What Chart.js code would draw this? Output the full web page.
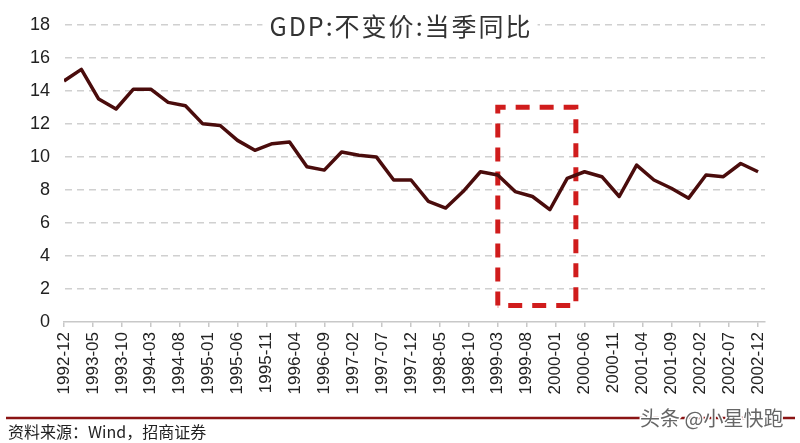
<!DOCTYPE html>
<html>
<head>
<meta charset="utf-8">
<script src="https://cdn.jsdelivr.net/npm/chart.js@4/dist/chart.umd.min.js"></script>
<style>
  html, body { margin: 0; padding: 0; background: #fff; }
  #wrap { width: 800px; height: 443px; position: relative; }
</style>
</head>
<body>
<div id="wrap"><canvas id="grafico"></canvas></div>
<script>
// Trimestres desde 1992-12 hasta 2002-12
const trimestres = [
  '1992-12','1993-03','1993-06','1993-09','1993-12','1994-03','1994-06','1994-09','1994-12',
  '1995-03','1995-06','1995-09','1995-12','1996-03','1996-06','1996-09','1996-12',
  '1997-03','1997-06','1997-09','1997-12','1998-03','1998-06','1998-09','1998-12',
  '1999-03','1999-06','1999-09','1999-12','2000-03','2000-06','2000-09','2000-12',
  '2001-03','2001-06','2001-09','2001-12','2002-03','2002-06','2002-09','2002-12'
];
const gdpYoY = [
  14.6, 15.3, 13.5, 12.9, 14.1, 14.1, 13.3, 13.1, 12.0,
  11.9, 11.0, 10.4, 10.8, 10.9, 9.4, 9.2, 10.3,
  10.1, 10.0, 8.6, 8.6, 7.3, 6.9, 7.9, 9.1,
  8.9, 7.9, 7.6, 6.8, 8.7, 9.1, 8.8, 7.6,
  9.5, 8.6, 8.1, 7.5, 8.9, 8.8, 9.6, 9.1
];
// recuadro rojo: desde 1999-03 hasta mediados de 2000-04, valores 1 a 13
const cajaMeses = ['1999-03', '2000-04'];
const cajaValores = [1, 13];

const titulo = 'GDP:不变价:当季同比';
const fuente = '资料来源：Wind，招商证券';
const marcaAgua = '头条 @小星快跑';

const inicio = { y: 1992, m: 12 };
function aMes(s) {
  const [a, m] = s.split('-').map(Number);
  return (a - inicio.y) * 12 + (m - inicio.m);
}
function aEtiqueta(v) {
  const total = inicio.y * 12 + (inicio.m - 1) + Math.round(v);
  const a = Math.floor(total / 12);
  const m = total % 12 + 1;
  return a + '-' + String(m).padStart(2, '0');
}

const puntos = trimestres.map((t, i) => ({ x: aMes(t), y: gdpYoY[i] }));
const x0 = aMes(cajaMeses[0]), x1 = aMes(cajaMeses[1]) + 0.5;
const caja = [
  { x: x0, y: cajaValores[0] }, { x: x0, y: cajaValores[1] },
  { x: x1, y: cajaValores[1] }, { x: x1, y: cajaValores[0] },
  { x: x0, y: cajaValores[0] }
];

const extras = {
  id: 'extras',
  afterDatasetsDraw(chart) {
    const c = chart.ctx;
    c.save();
    // titulo con fondo blanco
    c.font = '25px "Noto Sans CJK SC"';
    c.letterSpacing = '2px';
    const w = c.measureText(titulo).width;
    c.fillStyle = '#fff';
    c.fillRect(400 - w / 2 - 6, 8, w + 12, 32);
    c.fillStyle = '#333';
    c.textAlign = 'center';
    c.textBaseline = 'middle';
    c.fillText(titulo, 401, 26);
    c.letterSpacing = '0px';
    // linea inferior
    c.strokeStyle = '#8b1414';
    c.lineWidth = 2.5;
    c.beginPath();
    c.moveTo(6, 418);
    c.lineTo(795, 418);
    c.stroke();
    // fuente
    c.textAlign = 'left';
    c.fillStyle = '#222';
    c.font = '16px "Noto Sans CJK SC"';
    c.fillText(fuente, 8, 432);
    // marca de agua
    c.font = '20px "Noto Sans CJK SC"';
    c.lineWidth = 3;
    c.strokeStyle = '#fff';
    c.strokeText(marcaAgua, 640, 418);
    c.fillStyle = '#666';
    c.fillText(marcaAgua, 640, 418);
    c.restore();
  }
};

new Chart(document.getElementById('grafico'), {
  type: 'line',
  data: {
    datasets: [
      {
        data: puntos,
        borderColor: '#4a0c0c',
        borderWidth: 3.5,
        pointRadius: 0,
        tension: 0,
        borderJoinStyle: 'round'
      },
      {
        data: caja,
        borderColor: '#d01c1c',
        borderWidth: 5,
        borderDash: [14, 10],
        pointRadius: 0,
        tension: 0,
        borderJoinStyle: 'miter'
      }
    ]
  },
  options: {
    responsive: true,
    maintainAspectRatio: false,
    animation: false,
    layout: { padding: { left: 0, right: 35, top: 17, bottom: 21 } },
    plugins: { legend: { display: false }, tooltip: { enabled: false } },
    scales: {
      x: {
        type: 'linear',
        min: 0,
        max: 121.2,
        afterBuildTicks: (s) => {
          const t = [];
          for (let v = 0; v <= 120; v += 5) t.push({ value: v });
          s.ticks = t;
        },
        afterFit: (s) => { s.height = 100; },
        ticks: {
          autoSkip: false,
          minRotation: 90,
          maxRotation: 90,
          padding: 5,
          color: '#222',
          font: { family: 'Liberation Sans', size: 17 },
          callback: (v) => aEtiqueta(v)
        },
        grid: { drawOnChartArea: false, drawTicks: true, tickLength: 5, color: '#c8c8c8', lineWidth: 1.5 },
        border: { display: true, color: '#c8c8c8', width: 1.5 }
      },
      y: {
        min: 0,
        max: 18,
        afterFit: (s) => { s.width = 64; },
        ticks: {
          stepSize: 2,
          padding: 14,
          color: '#222',
          font: { family: 'Liberation Sans', size: 18 }
        },
        grid: { drawTicks: false, color: (ctx) => ctx.tick.value === 0 ? 'rgba(0,0,0,0)' : '#d0d0d0', lineWidth: 1.5 },
        border: { display: true, color: 'rgba(0,0,0,0)', dash: [7, 5] }
      }
    }
  },
  plugins: [extras]
});
</script>
</body>
</html>
